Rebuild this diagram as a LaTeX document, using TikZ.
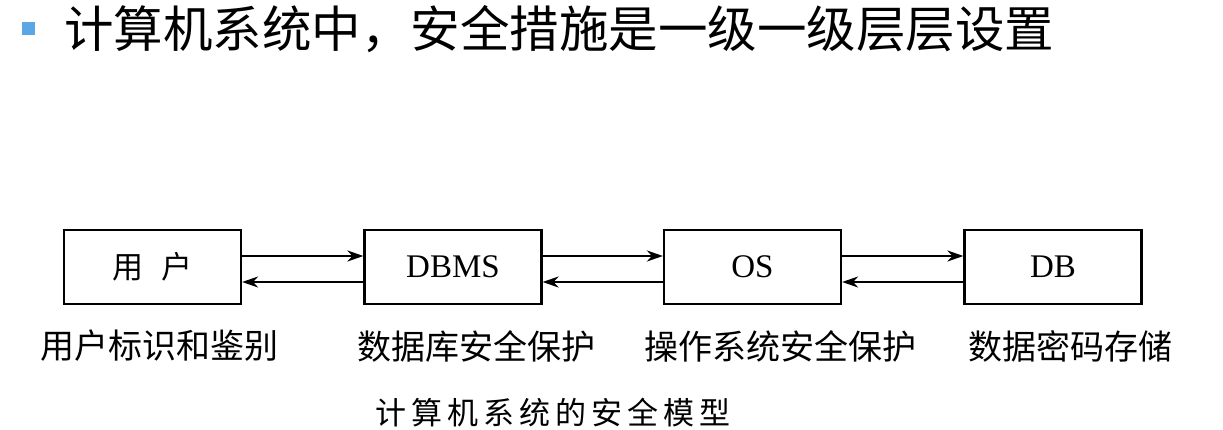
\documentclass[tikz,border=0pt]{standalone}
\usepackage{fontspec}
\setmainfont{Liberation Serif}
\newfontfamily\cjk{Noto Sans CJK SC}
\usetikzlibrary{arrows.meta}
\definecolor{bulletblue}{HTML}{5BA7E6}
\begin{document}
\begin{tikzpicture}[x=1pt,y=-1pt,
  box/.style={draw=black,line width=2.2pt,minimum width=177pt,minimum height=74pt,inner sep=0pt,font=\fontsize{33}{36}\selectfont},
  lab/.style={font=\cjk\fontsize{34}{38}\selectfont,inner sep=0pt},
  conn/.style={line width=2pt,-{Stealth[length=16pt,width=11pt,inset=5pt]}}]
\useasboundingbox (0,0) rectangle (1223,430);
\fill[bulletblue] (22,22) rectangle (35,35);
\node[anchor=west,inner sep=0pt,font=\cjk\fontsize{49.5}{52}\selectfont] (title) at (64,29) {计算机系统中，安全措施是一级一级层层设置};
\node[box] (u) at (152.5,267) {\cjk\fontsize{31}{36}\selectfont 用\hspace{0.6em}户};
\node[box] (d) at (453,267) {DBMS};
\node[box] (o) at (752.5,267) {OS};
\node[box] (b) at (1053,267) {DB};
\foreach \a/\b in {u/d,d/o,o/b}{
  \draw[conn] ([yshift=11pt]\a.east) -- ([yshift=11pt]\b.west);
  \draw[conn] ([yshift=-15pt]\b.west) -- ([yshift=-15pt]\a.east);
}
\node[lab] (lu) at (159,346) {用户标识和鉴别};
\node[lab] (ld) at (476,346) {数据库安全保护};
\node[lab] (lo) at (780,346) {操作系统安全保护};
\node[lab] (lb) at (1070,346) {数据密码存储};
\node[inner sep=0pt,font=\cjk\fontsize{31}{34}\selectfont\addfontfeature{LetterSpace=16}] (cap) at (553,413) {计算机系统的安全模型};
\end{tikzpicture}
\end{document}
